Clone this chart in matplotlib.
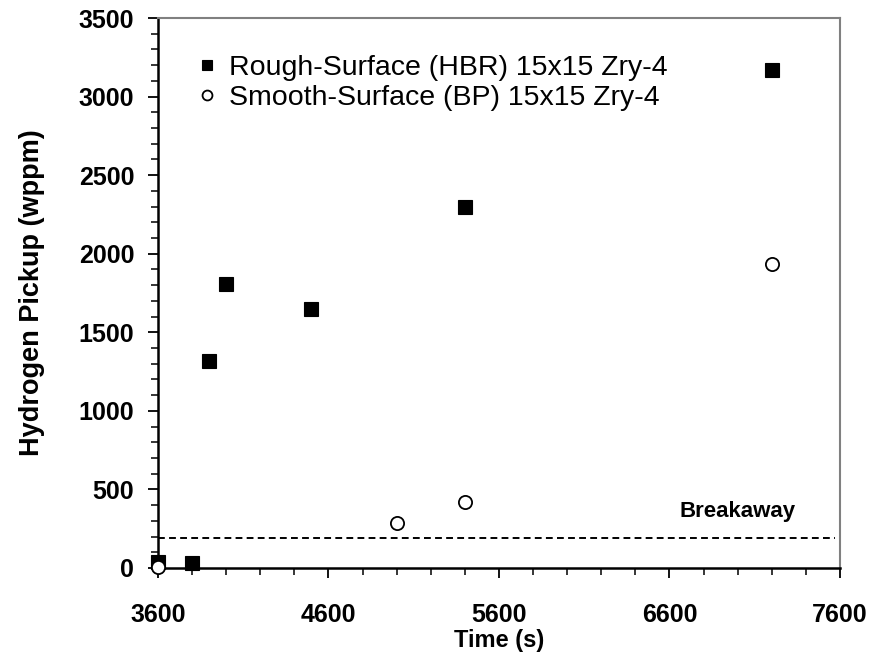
import matplotlib
matplotlib.use("Agg")
import matplotlib.pyplot as plt
from matplotlib.ticker import FixedLocator, MultipleLocator

plt.rcParams["font.family"] = ["Liberation Sans", "DejaVu Sans"]

# data
rough_time = [3600, 3800, 3900, 4000, 4500, 5400, 7200]
rough_h = [40, 30, 1320, 1810, 1650, 2300, 3170]
smooth_time = [3600, 5000, 5400, 7200]
smooth_h = [5, 285, 420, 1935]
breakaway = 190

x_ticks = [3600, 4600, 5600, 6600, 7600]
y_ticks = [0, 500, 1000, 1500, 2000, 2500, 3000, 3500]

rough_label = "Rough-Surface (HBR) 15x15 Zry-4"
smooth_label = "Smooth-Surface (BP) 15x15 Zry-4"


fig = plt.figure(figsize=(8.69, 6.6), dpi=100)
ax = fig.add_axes([0.1818, 0.1394, 0.7848, 0.8333])

ax.axhline(breakaway, xmin=0, xmax=0.993, color="black", lw=1.4,
           ls=(0, (3.5, 2.2)), zorder=1)

ax.plot(rough_time, rough_h, ls="none", marker="s", ms=9.5,
        mfc="black", mec="black", mew=0.8, label=rough_label, zorder=3,
        clip_on=False)
ax.plot(smooth_time, smooth_h, ls="none", marker="o", ms=9.5,
        mfc="white", mec="black", mew=1.3, label=smooth_label, zorder=4,
        clip_on=False)

ax.text(7000, 360, "Breakaway", fontsize=16, fontweight="bold",
        ha="center", va="center")

ax.set_xlim(3600, 7600)
ax.set_ylim(0, 3500)
ax.xaxis.set_major_locator(FixedLocator(x_ticks))
ax.xaxis.set_minor_locator(MultipleLocator(200))
ax.yaxis.set_major_locator(FixedLocator(y_ticks))
ax.yaxis.set_minor_locator(MultipleLocator(100))

ax.tick_params(which="major", direction="out", length=7, width=1.3,
               labelsize=18)
ax.tick_params(axis="y", which="major", pad=10)
ax.tick_params(axis="x", which="major", pad=18)
ax.tick_params(which="minor", direction="out", length=5, width=1.1)
for lab in ax.get_xticklabels() + ax.get_yticklabels():
    lab.set_fontweight("bold")

ax.set_xlabel("Time (s)", fontsize=17, fontweight="bold", labelpad=2)
ax.set_ylabel("Hydrogen Pickup (wppm)", fontsize=19.5, fontweight="bold",
              labelpad=24)

for side in ["left", "bottom"]:
    ax.spines[side].set_linewidth(1.8)
    ax.spines[side].set_color("black")
for side in ["top", "right"]:
    ax.spines[side].set_linewidth(1.5)
    ax.spines[side].set_color("#808080")

ax.legend(loc="upper left", frameon=False, fontsize=20.5, markerscale=0.75,
          handlelength=0.6, handletextpad=0.45, labelspacing=0.15,
          bbox_to_anchor=(0.022, 0.98))

fig.savefig("out.png", dpi=100)
plt.close(fig)
